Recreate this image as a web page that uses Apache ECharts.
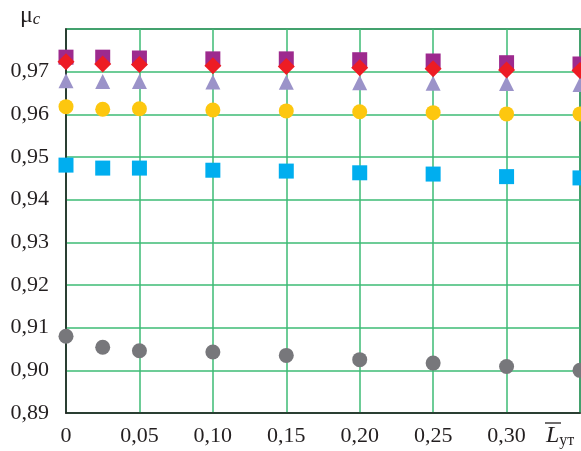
<!DOCTYPE html>
<html>
<head>
<meta charset="utf-8">
<script src="https://cdn.jsdelivr.net/npm/echarts@6/dist/echarts.min.js"></script>
<style>
html, body { margin: 0; padding: 0; background: #fff; }
#chart { width: 581px; height: 451px; }
</style>
</head>
<body>
<div id="chart"></div>
<script>
// x positions (relative length) and the six measured series
const xVals = [0, 0.025, 0.05, 0.10, 0.15, 0.20, 0.25, 0.30, 0.35]
const grayVals = [0.9080, 0.9054, 0.9046, 0.9043, 0.9035, 0.9025, 0.9017, 0.9009, 0.9000]
const blueVals = [0.9481, 0.9474, 0.9474, 0.9469, 0.9467, 0.9463, 0.9460, 0.9454, 0.9451]
const yellowVals = [0.9618, 0.9612, 0.9613, 0.9610, 0.9608, 0.9606, 0.9604, 0.9601, 0.9601]
const triVals = [0.9679, 0.9677, 0.9677, 0.9676, 0.9675, 0.9674, 0.9673, 0.9672, 0.9670]
const purpleVals = [0.9734, 0.9734, 0.9732, 0.9730, 0.9730, 0.9728, 0.9725, 0.9721, 0.9718]
const redVals = [0.9723, 0.9718, 0.9717, 0.9714, 0.9712, 0.9709, 0.9707, 0.9704, 0.9703]

const font = 'Liberation Serif'
const pairs = vals => xVals.map((x, i) => [x, vals[i]])
const comma = v => (v === 0 ? '0' : v.toFixed(2).replace('.', ','))

const mk = (vals, symbol, size, color) => ({
	type: 'scatter',
	data: pairs(vals),
	symbol: symbol,
	symbolSize: size,
	clip: false,
	itemStyle: { color: color, opacity: 1 },
	emphasis: { disabled: true }
})

const chart = echarts.init(document.getElementById('chart'))
chart.setOption({
	animation: false,
	grid: { left: 66, right: 1, top: 29, bottom: 38, show: true, borderColor: '#231f20', borderWidth: 1.5 },
	xAxis: {
		type: 'value',
		min: 0,
		max: 0.35,
		interval: 0.05,
		axisLine: { lineStyle: { color: '#231f20', width: 1.5 } },
		axisTick: { show: false },
		axisLabel: {
			showMaxLabel: false,
			margin: 12,
			color: '#231f20',
			fontFamily: font,
			fontSize: 22,
			formatter: v => comma(v)
		},
		splitLine: { show: true, lineStyle: { color: '#3dbb74', width: 1.5 } }
	},
	yAxis: {
		type: 'value',
		min: 0.89,
		max: 0.98,
		interval: 0.01,
		axisLine: { show: true, lineStyle: { color: '#231f20', width: 1.5 } },
		axisTick: { show: false },
		axisLabel: {
			showMaxLabel: false,
			margin: 17,
			color: '#231f20',
			fontFamily: font,
			fontSize: 22,
			formatter: v => v.toFixed(2).replace('.', ',')
		},
		splitLine: { show: true, lineStyle: { color: '#3dbb74', width: 1.5 } }
	},
	graphic: [
		{
			type: 'text',
			left: 20,
			top: 4,
			style: {
				text: '{m|μ}{c|c}',
				rich: {
					m: { fontFamily: font, fontSize: 24, fill: '#231f20' },
					c: { fontFamily: font, fontSize: 17, fontStyle: 'italic', fill: '#231f20', padding: [8, 0, 0, 0] }
				}
			}
		},
		{
			type: 'text',
			left: 546,
			top: 424,
			style: {
				text: '{l|L}{s|ут}',
				rich: {
					l: { fontFamily: font, fontSize: 24, fontStyle: 'italic', fill: '#231f20' },
					s: { fontFamily: font, fontSize: 16, fill: '#231f20', padding: [9, 0, 0, 0] }
				}
			}
		},
		{
			type: 'line',
			shape: { x1: 545, y1: 423, x2: 561, y2: 423 },
			style: { stroke: '#231f20', lineWidth: 1.3 }
		}
	],
	series: [
		mk(grayVals, 'circle', 15, '#77777b'),
		mk(blueVals, 'rect', 15, '#00aeef'),
		mk(yellowVals, 'circle', 15, '#fdc70f'),
		mk(triVals, 'triangle', 15, '#9b93c9'),
		mk(purpleVals, 'rect', 15, '#9d2a8e'),
		mk(redVals, 'diamond', 17, '#ed1c24')
	]
})
</script>
</body>
</html>
